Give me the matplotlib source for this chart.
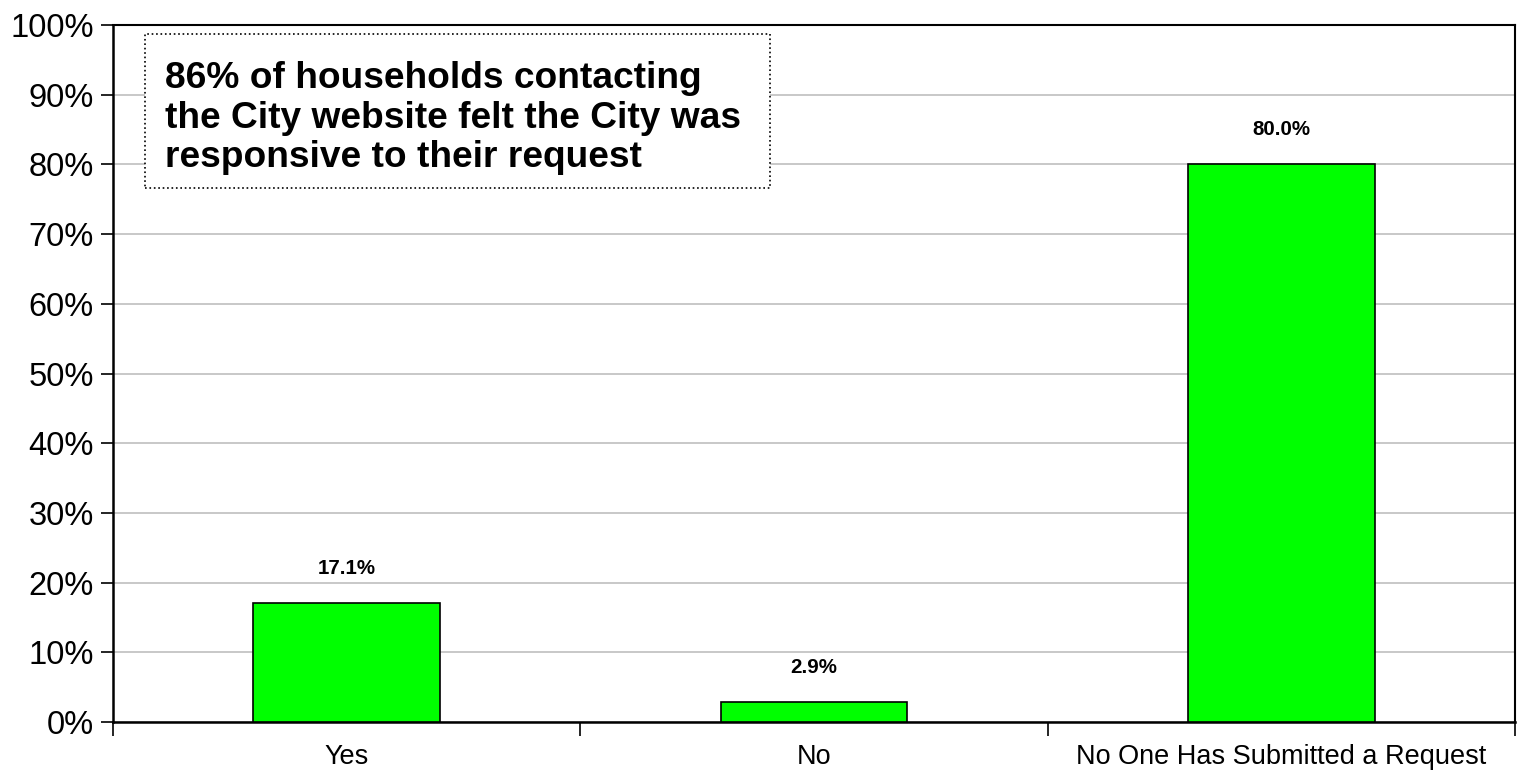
import matplotlib
matplotlib.use("Agg")
import matplotlib.pyplot as plt
from matplotlib.patches import Rectangle
from matplotlib.ticker import PercentFormatter, FixedLocator

plt.rcParams['font.family'] = ['Liberation Sans', 'DejaVu Sans']

categories = ["Yes", "No", "No One Has Submitted a Request"]
shares = [17.1, 2.9, 80.0]
note = ("86% of households contacting\n"
        "the City website felt the City was\n"
        "responsive to their request")

fig = plt.figure(figsize=(15.22, 7.72), dpi=100)
ax = fig.add_axes([113 / 1522, 50 / 772, 1402 / 1522, 697 / 772])

pos = list(range(len(categories)))
bars = ax.bar(pos, shares, width=0.4, color="#00ff00", edgecolor="black",
              linewidth=1.2, zorder=3)

for b, v in zip(bars, shares):
    ax.annotate(f"{v:.1f}%", (b.get_x() + b.get_width() / 2, v),
                xytext=(0, 25), textcoords="offset points",
                ha="center", va="center", fontsize=14.8, fontweight="bold")

ax.set_xlim(-0.5, len(categories) - 0.5)
ax.set_ylim(0, 100)
ax.set_yticks(range(0, 101, 10))
ax.yaxis.set_major_formatter(PercentFormatter(decimals=0))
ax.tick_params(axis="y", labelsize=23.5, length=9, width=1.2, direction="out",
               pad=5)

# category labels centred, tick marks on the boundaries
ax.set_xticks(pos)
ax.set_xticklabels(categories, fontsize=19.5)
ax.tick_params(axis="x", length=0, pad=16)
ax.xaxis.set_minor_locator(FixedLocator([p - 0.5 for p in pos] + [pos[-1] + 0.5]))
ax.tick_params(axis="x", which="minor", length=10, width=1.2, direction="out")

ax.grid(axis="y", color="#bfbfbf", linewidth=1.2, zorder=0)
ax.spines["top"].set_linewidth(1.5)
ax.spines["right"].set_linewidth(1.5)
ax.spines["left"].set_linewidth(1.8)
ax.spines["bottom"].set_linewidth(1.8)

# dotted note box in the upper left
ax.add_patch(Rectangle((0.0228, 0.7661), 0.4458, 0.2209, transform=ax.transAxes,
                       facecolor="white", edgecolor="black", linestyle=":",
                       linewidth=1.2, zorder=5))
ax.text(0.0371, 0.948, note, transform=ax.transAxes, ha="left", va="top",
        fontsize=26.7, fontweight="bold", linespacing=1.16, zorder=6)

fig.savefig("out.png", dpi=100)
